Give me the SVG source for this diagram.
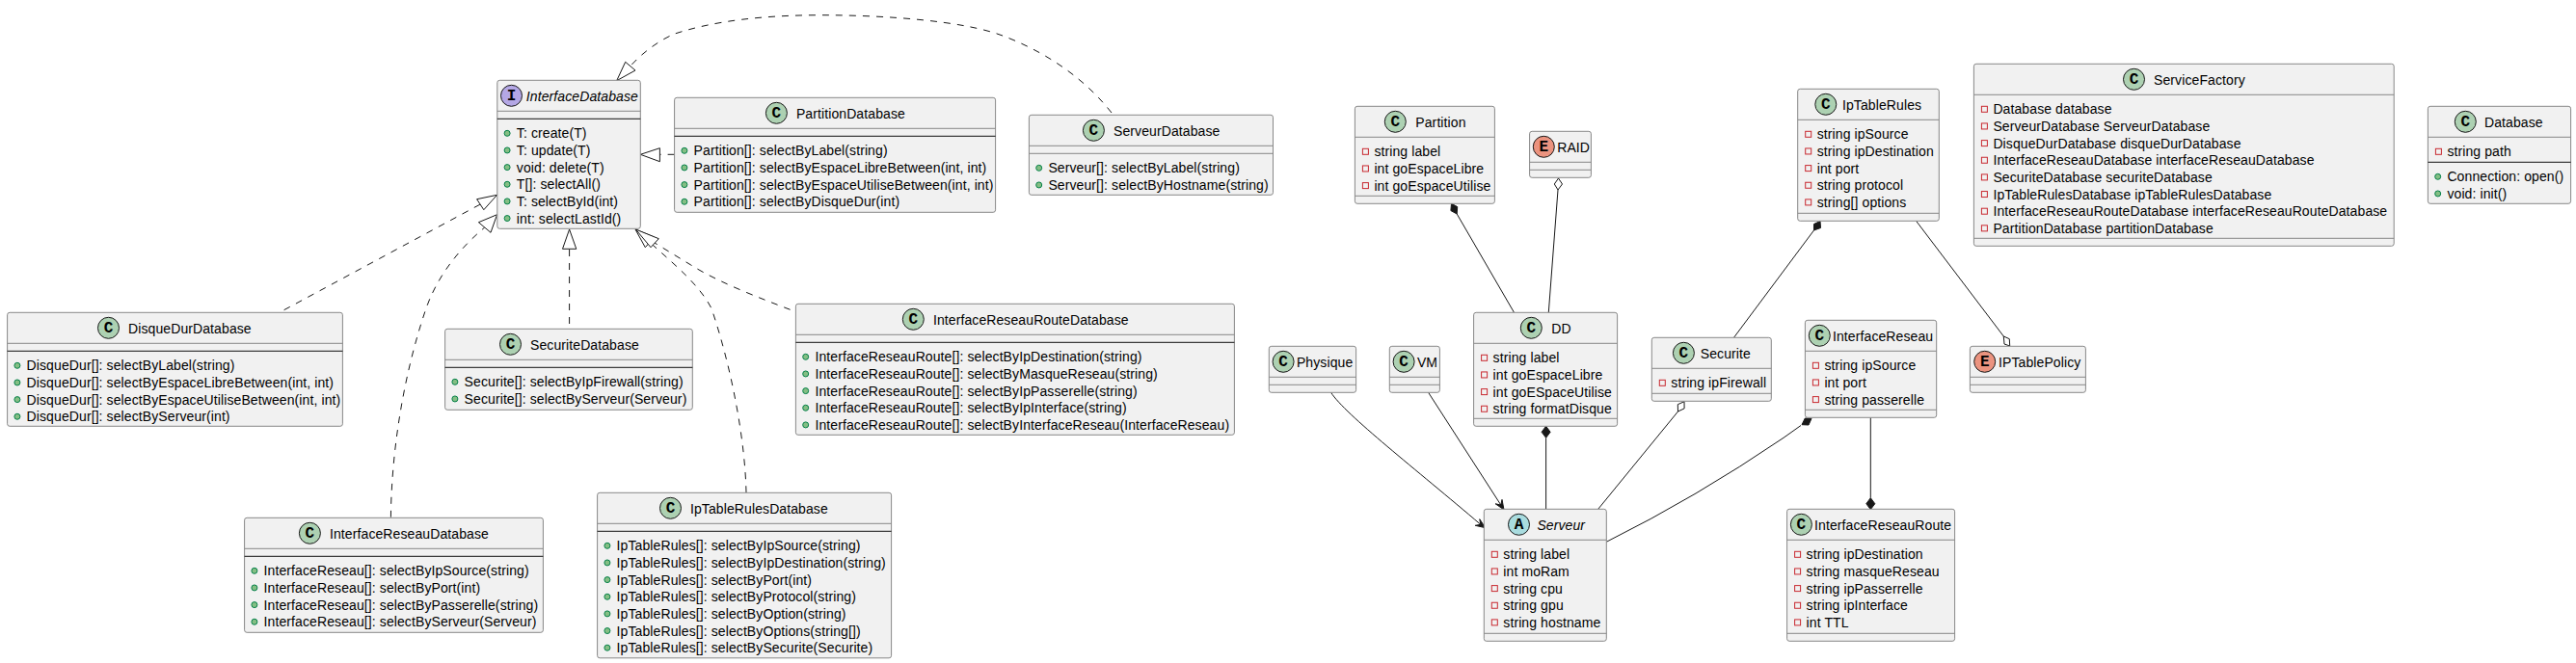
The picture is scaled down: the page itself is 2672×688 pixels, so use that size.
<svg xmlns="http://www.w3.org/2000/svg" width="2672" height="688" viewBox="0 0 2672 688">
<style>
text{font-family:"Liberation Sans",Arial,sans-serif;font-size:14px;letter-spacing:.1px;fill:#000}
.i{font-style:italic}
.b{fill:#F1F1F1;stroke:#888;stroke-width:1}
.d{stroke:#888;stroke-width:1}
.s{stroke:#111;stroke-width:1}
.ic{stroke:#181818;stroke-width:1}
.l{font-family:"Liberation Mono",monospace;font-size:16px;font-weight:bold;text-anchor:middle;letter-spacing:0}
.c{fill:#ADD1B2}.n{fill:#B4A7E5}.a{fill:#A9DCDF}.e{fill:#EB937F}
.pub{fill:#84BE84;stroke:#038048;stroke-width:1}
.pri{fill:none;stroke:#C82930;stroke-width:1}
.cn path{fill:none;stroke:#181818;stroke-width:1}
.cn .dash{stroke-dasharray:7,7}
.cn polygon{stroke:#181818;stroke-width:1}
.cn .h{fill:#fff}
.cn .o{fill:#fff}
.cn .f{fill:#181818}
</style>
<defs>
<circle id="m" class="pub" cx="10.3" cy="0" r="3"/>
<rect id="p" class="pri" x="8" y="-3" width="6" height="6"/>
</defs>
<g id="connectors" class="cn">
<path class="dash" d="M1153,117 C1120,75 1075,50 1039,36.7 C1000,22 920,15.7 851.8,15.7 C790,15.7 740,22 700,35 C683,42 665,56 653.8,68.7"/>
<polygon class="h" points="639.7,83.7 648.7,64.3 659,73"/>
<path class="dash" d="M699.6,160.3 L684.4,160.3"/>
<polygon class="h" points="664.3,160.3 684.4,153.7 684.4,167.7"/>
<path class="dash" d="M294.6,321.7 L498.2,212"/>
<polygon class="h" points="515.6,202.3 494.6,206.7 501.8,217.7"/>
<path class="dash" d="M405.4,536.7 C406,470 418,390 442,320 C455,283 480,255 502.7,236"/>
<polygon class="h" points="515.6,222.7 496.4,230.7 509,241.3"/>
<path class="dash" d="M590.6,336 L590.6,258.3"/>
<polygon class="h" points="590.6,238 583.5,258.3 597.8,258.3"/>
<path class="dash" d="M774,511 C773,460 760,385 738,320 C725,295 700,275 674,251.4"/>
<polygon class="h" points="659,238 669.3,256.7 678.7,246.1"/>
<path class="dash" d="M819.6,321.3 C790,310 745,293 716.7,275 L679,252"/>
<polygon class="h" points="659.4,238 683.3,247.7 675,256.7"/>
<path d="M1511.2,222 L1570.5,324.3"/>
<polygon class="f" points="1505.5,211.3 1511.7,214.6 1511.2,222 1504.9,218.6"/>
<path d="M1616,197 L1606.3,324.3"/>
<polygon class="o" points="1616.5,185 1620.5,191 1616,197 1612.3,191"/>
<path d="M1881.5,239 L1798.5,350.3"/>
<polygon class="f" points="1888,229.5 1888.5,236.5 1881.5,239 1881.5,232.5"/>
<path d="M1987.6,229.3 L2078.3,349"/>
<polygon class="o" points="2084.7,359 2084.3,351.7 2078.3,349 2079,357"/>
<path d="M1740.5,427 L1657.7,528.3"/>
<polygon class="o" points="1747,416.7 1747.1,423.9 1740.5,427 1740.3,419.7"/>
<path d="M1603.6,454.3 L1603.6,528.3"/>
<polygon class="f" points="1603.6,442.3 1608.1,448.3 1603.6,454.3 1599.1,448.3"/>
<path d="M1868,441.5 L1850,454.3 Q1759.85,515.7 1666.3,562.3"/>
<polygon class="f" points="1869,440.7 1872.3,434 1879,434.3 1876,441"/>
<path d="M1940.3,433.3 L1940.3,516.7"/>
<polygon class="f" points="1940.3,528.7 1944.8,522.7 1940.3,516.7 1935.8,522.7"/>
<path d="M1380.6,407.3 C1395,430 1470,488 1535.8,544.3"/>
<polygon class="f" points="1540.7,547.7 1534.8,538.7 1535.8,544.3 1530.2,545.3"/>
<path d="M1481.6,407.3 L1556.8,524"/>
<polygon class="f" points="1560,529 1558,518.4 1556.8,524 1551.2,522.8"/>
</g>

<g id="InterfaceDatabase" transform="translate(515.8,83.3)">
<rect class="b" width="148.5" height="154" rx="2.5"/><line class="d" x2="148.5" y1="32" y2="32"/><line class="s" x2="148.5" y1="40" y2="40"/>
<circle class="n ic" cx="14.7" cy="16" r="11"/><text class="l" x="14.7" y="21">I</text><text class="i" x="30" y="21.5">InterfaceDatabase</text>
<use href="#m" y="55"/><text x="20" y="60">T: create(T)</text>
<use href="#m" y="72.65"/><text x="20" y="77.65">T: update(T)</text>
<use href="#m" y="90.3"/><text x="20" y="95.3">void: delete(T)</text>
<use href="#m" y="107.95"/><text x="20" y="112.95">T[]: selectAll()</text>
<use href="#m" y="125.6"/><text x="20" y="130.6">T: selectById(int)</text>
<use href="#m" y="143.25"/><text x="20" y="148.25">int: selectLastId()</text>
</g>
<g id="PartitionDatabase" transform="translate(699.6,101.3)">
<rect class="b" width="333" height="119" rx="2.5"/><line class="d" x2="333" y1="32" y2="32"/><line class="s" x2="333" y1="40" y2="40"/>
<circle class="c ic" cx="105.8" cy="16" r="11"/><text class="l" x="105.8" y="21">C</text><text x="126.3" y="21.5">PartitionDatabase</text>
<use href="#m" y="55"/><text x="20" y="60">Partition[]: selectByLabel(string)</text>
<use href="#m" y="72.65"/><text x="20" y="77.65">Partition[]: selectByEspaceLibreBetween(int, int)</text>
<use href="#m" y="90.3"/><text x="20" y="95.3">Partition[]: selectByEspaceUtiliseBetween(int, int)</text>
<use href="#m" y="107.95"/><text x="20" y="112.95">Partition[]: selectByDisqueDur(int)</text>
</g>
<g id="ServeurDatabase" transform="translate(1067.4,119.3)">
<rect class="b" width="253.1" height="83" rx="2.5"/><line class="d" x2="253.1" y1="32" y2="32"/><line class="d" x2="253.1" y1="40" y2="40"/>
<circle class="c ic" cx="67" cy="16" r="11"/><text class="l" x="67" y="21">C</text><text x="87.6" y="21.5">ServeurDatabase</text>
<use href="#m" y="55"/><text x="20" y="60">Serveur[]: selectByLabel(string)</text>
<use href="#m" y="72.65"/><text x="20" y="77.65">Serveur[]: selectByHostname(string)</text>
</g>
<g id="DisqueDurDatabase" transform="translate(7.6,324.3)">
<rect class="b" width="347.8" height="118" rx="2.5"/><line class="d" x2="347.8" y1="32" y2="32"/><line class="s" x2="347.8" y1="40" y2="40"/>
<circle class="c ic" cx="104.9" cy="16" r="11"/><text class="l" x="104.9" y="21">C</text><text x="125.4" y="21.5">DisqueDurDatabase</text>
<use href="#m" y="55"/><text x="20" y="60">DisqueDur[]: selectByLabel(string)</text>
<use href="#m" y="72.65"/><text x="20" y="77.65">DisqueDur[]: selectByEspaceLibreBetween(int, int)</text>
<use href="#m" y="90.3"/><text x="20" y="95.3">DisqueDur[]: selectByEspaceUtiliseBetween(int, int)</text>
<use href="#m" y="107.95"/><text x="20" y="112.95">DisqueDur[]: selectByServeur(int)</text>
</g>
<g id="SecuriteDatabase" transform="translate(461.6,341.3)">
<rect class="b" width="256.7" height="84" rx="2.5"/><line class="d" x2="256.7" y1="32" y2="32"/><line class="s" x2="256.7" y1="40" y2="40"/>
<circle class="c ic" cx="67.9" cy="16" r="11"/><text class="l" x="67.9" y="21">C</text><text x="88.4" y="21.5">SecuriteDatabase</text>
<use href="#m" y="55"/><text x="20" y="60">Securite[]: selectByIpFirewall(string)</text>
<use href="#m" y="72.65"/><text x="20" y="77.65">Securite[]: selectByServeur(Serveur)</text>
</g>
<g id="InterfaceReseauDatabase" transform="translate(253.6,537.3)">
<rect class="b" width="309.8" height="119" rx="2.5"/><line class="d" x2="309.8" y1="32" y2="32"/><line class="s" x2="309.8" y1="40" y2="40"/>
<circle class="c ic" cx="67.8" cy="16" r="11"/><text class="l" x="67.8" y="21">C</text><text x="88.4" y="21.5">InterfaceReseauDatabase</text>
<use href="#m" y="55"/><text x="20" y="60">InterfaceReseau[]: selectByIpSource(string)</text>
<use href="#m" y="72.65"/><text x="20" y="77.65">InterfaceReseau[]: selectByPort(int)</text>
<use href="#m" y="90.3"/><text x="20" y="95.3">InterfaceReseau[]: selectByPasserelle(string)</text>
<use href="#m" y="107.95"/><text x="20" y="112.95">InterfaceReseau[]: selectByServeur(Serveur)</text>
</g>
<g id="IpTableRulesDatabase" transform="translate(619.6,511.3)">
<rect class="b" width="305" height="171.5" rx="2.5"/><line class="d" x2="305" y1="32" y2="32"/><line class="s" x2="305" y1="40" y2="40"/>
<circle class="c ic" cx="75.9" cy="16" r="11"/><text class="l" x="75.9" y="21">C</text><text x="96.4" y="21.5">IpTableRulesDatabase</text>
<use href="#m" y="55"/><text x="20" y="60">IpTableRules[]: selectByIpSource(string)</text>
<use href="#m" y="72.65"/><text x="20" y="77.65">IpTableRules[]: selectByIpDestination(string)</text>
<use href="#m" y="90.3"/><text x="20" y="95.3">IpTableRules[]: selectByPort(int)</text>
<use href="#m" y="107.95"/><text x="20" y="112.95">IpTableRules[]: selectByProtocol(string)</text>
<use href="#m" y="125.6"/><text x="20" y="130.6">IpTableRules[]: selectByOption(string)</text>
<use href="#m" y="143.25"/><text x="20" y="148.25">IpTableRules[]: selectByOptions(string[])</text>
<use href="#m" y="160.9"/><text x="20" y="165.9">IpTableRules[]: selectBySecurite(Securite)</text>
</g>
<g id="InterfaceReseauRouteDatabase" transform="translate(825.4,315.3)">
<rect class="b" width="455" height="136" rx="2.5"/><line class="d" x2="455" y1="32" y2="32"/><line class="s" x2="455" y1="40" y2="40"/>
<circle class="c ic" cx="121.9" cy="16" r="11"/><text class="l" x="121.9" y="21">C</text><text x="142.5" y="21.5">InterfaceReseauRouteDatabase</text>
<use href="#m" y="55"/><text x="20" y="60">InterfaceReseauRoute[]: selectByIpDestination(string)</text>
<use href="#m" y="72.65"/><text x="20" y="77.65">InterfaceReseauRoute[]: selectByMasqueReseau(string)</text>
<use href="#m" y="90.3"/><text x="20" y="95.3">InterfaceReseauRoute[]: selectByIpPasserelle(string)</text>
<use href="#m" y="107.95"/><text x="20" y="112.95">InterfaceReseauRoute[]: selectByIpInterface(string)</text>
<use href="#m" y="125.6"/><text x="20" y="130.6">InterfaceReseauRoute[]: selectByInterfaceReseau(InterfaceReseau)</text>
</g>
<g id="Partition" transform="translate(1405.4,110.3)">
<rect class="b" width="145" height="101" rx="2.5"/><line class="d" x2="145" y1="32" y2="32"/><line class="d" x2="145" y1="93" y2="93"/>
<circle class="c ic" cx="41.9" cy="16" r="11"/><text class="l" x="41.9" y="21">C</text><text x="62.9" y="21.5">Partition</text>
<use href="#p" y="47"/><text x="20" y="52">string label</text>
<use href="#p" y="64.65"/><text x="20" y="69.65">int goEspaceLibre</text>
<use href="#p" y="82.3"/><text x="20" y="87.3">int goEspaceUtilise</text>
</g>
<g id="RAID" transform="translate(1586.6,136.3)">
<rect class="b" width="63.8" height="48" rx="2.5"/><line class="d" x2="63.8" y1="32" y2="32"/><line class="d" x2="63.8" y1="40" y2="40"/>
<circle class="e ic" cx="14.7" cy="16" r="11"/><text class="l" x="14.7" y="21">E</text><text x="28.6" y="21.5">RAID</text>
</g>
<g id="IpTableRules" transform="translate(1864.7,92.3)">
<rect class="b" width="146.6" height="137" rx="2.5"/><line class="d" x2="146.6" y1="32" y2="32"/><line class="d" x2="146.6" y1="129" y2="129"/>
<circle class="c ic" cx="29.1" cy="16" r="11"/><text class="l" x="29.1" y="21">C</text><text x="46.3" y="21.5">IpTableRules</text>
<use href="#p" y="47"/><text x="20" y="52">string ipSource</text>
<use href="#p" y="64.65"/><text x="20" y="69.65">string ipDestination</text>
<use href="#p" y="82.3"/><text x="20" y="87.3">int port</text>
<use href="#p" y="99.95"/><text x="20" y="104.95">string protocol</text>
<use href="#p" y="117.6"/><text x="20" y="122.6">string[] options</text>
</g>
<g id="ServiceFactory" transform="translate(2047.4,66.3)">
<rect class="b" width="435.8" height="189" rx="2.5"/><line class="d" x2="435.8" y1="32" y2="32"/><line class="d" x2="435.8" y1="181" y2="181"/>
<circle class="c ic" cx="166.1" cy="16" r="11"/><text class="l" x="166.1" y="21">C</text><text x="186.6" y="21.5">ServiceFactory</text>
<use href="#p" y="47"/><text x="20" y="52">Database database</text>
<use href="#p" y="64.65"/><text x="20" y="69.65">ServeurDatabase ServeurDatabase</text>
<use href="#p" y="82.3"/><text x="20" y="87.3">DisqueDurDatabase disqueDurDatabase</text>
<use href="#p" y="99.95"/><text x="20" y="104.95">InterfaceReseauDatabase interfaceReseauDatabase</text>
<use href="#p" y="117.6"/><text x="20" y="122.6">SecuriteDatabase securiteDatabase</text>
<use href="#p" y="135.25"/><text x="20" y="140.25">IpTableRulesDatabase ipTableRulesDatabase</text>
<use href="#p" y="152.9"/><text x="20" y="157.9">InterfaceReseauRouteDatabase interfaceReseauRouteDatabase</text>
<use href="#p" y="170.55"/><text x="20" y="175.55">PartitionDatabase partitionDatabase</text>
</g>
<g id="Database" transform="translate(2518.4,110.3)">
<rect class="b" width="148.2" height="101" rx="2.5"/><line class="d" x2="148.2" y1="32" y2="32"/><line class="s" x2="148.2" y1="58" y2="58"/>
<circle class="c ic" cx="38.9" cy="16" r="11"/><text class="l" x="38.9" y="21">C</text><text x="58.6" y="21.5">Database</text>
<use href="#p" y="47"/><text x="20" y="52">string path</text>
<use href="#m" y="73"/><text x="20" y="78">Connection: open()</text>
<use href="#m" y="90.65"/><text x="20" y="95.65">void: init()</text>
</g>
<g id="Physique" transform="translate(1316.3,359.3)">
<rect class="b" width="90.3" height="48" rx="2.5"/><line class="d" x2="90.3" y1="32" y2="32"/><line class="d" x2="90.3" y1="40" y2="40"/>
<circle class="c ic" cx="14.8" cy="16" r="11"/><text class="l" x="14.8" y="21">C</text><text x="28.6" y="21.5">Physique</text>
</g>
<g id="VM" transform="translate(1441.3,359.3)">
<rect class="b" width="52.1" height="48" rx="2.5"/><line class="d" x2="52.1" y1="32" y2="32"/><line class="d" x2="52.1" y1="40" y2="40"/>
<circle class="c ic" cx="14.8" cy="16" r="11"/><text class="l" x="14.8" y="21">C</text><text x="28.6" y="21.5">VM</text>
</g>
<g id="DD" transform="translate(1528.6,324.3)">
<rect class="b" width="149" height="118" rx="2.5"/><line class="d" x2="149" y1="32" y2="32"/><line class="d" x2="149" y1="110" y2="110"/>
<circle class="c ic" cx="59.7" cy="16" r="11"/><text class="l" x="59.7" y="21">C</text><text x="80.6" y="21.5">DD</text>
<use href="#p" y="47"/><text x="20" y="52">string label</text>
<use href="#p" y="64.65"/><text x="20" y="69.65">int goEspaceLibre</text>
<use href="#p" y="82.3"/><text x="20" y="87.3">int goESpaceUtilise</text>
<use href="#p" y="99.95"/><text x="20" y="104.95">string formatDisque</text>
</g>
<g id="Securite" transform="translate(1713.3,350.3)">
<rect class="b" width="124" height="66" rx="2.5"/><line class="d" x2="124" y1="32" y2="32"/><line class="d" x2="124" y1="58" y2="58"/>
<circle class="c ic" cx="33.1" cy="16" r="11"/><text class="l" x="33.1" y="21">C</text><text x="50.5" y="21.5">Securite</text>
<use href="#p" y="47"/><text x="20" y="52">string ipFirewall</text>
</g>
<g id="InterfaceReseau" transform="translate(1872.4,332.3)">
<rect class="b" width="136.3" height="101" rx="2.5"/><line class="d" x2="136.3" y1="32" y2="32"/><line class="d" x2="136.3" y1="93" y2="93"/>
<circle class="c ic" cx="14.9" cy="16" r="11"/><text class="l" x="14.9" y="21">C</text><text x="28.6" y="21.5">InterfaceReseau</text>
<use href="#p" y="47"/><text x="20" y="52">string ipSource</text>
<use href="#p" y="64.65"/><text x="20" y="69.65">int port</text>
<use href="#p" y="82.3"/><text x="20" y="87.3">string passerelle</text>
</g>
<g id="IPTablePolicy" transform="translate(2043.4,359.3)">
<rect class="b" width="120" height="48" rx="2.5"/><line class="d" x2="120" y1="32" y2="32"/><line class="d" x2="120" y1="40" y2="40"/>
<circle class="e ic" cx="15.3" cy="16" r="11"/><text class="l" x="15.3" y="21">E</text><text x="29.6" y="21.5">IPTablePolicy</text>
</g>
<g id="Serveur" transform="translate(1539.3,528.3)">
<rect class="b" width="127" height="137" rx="2.5"/><line class="d" x2="127" y1="32" y2="32"/><line class="d" x2="127" y1="129" y2="129"/>
<circle class="a ic" cx="36.2" cy="16" r="11"/><text class="l" x="36.2" y="21">A</text><text class="i" x="55.1" y="21.5">Serveur</text>
<use href="#p" y="47"/><text x="20" y="52">string label</text>
<use href="#p" y="64.65"/><text x="20" y="69.65">int moRam</text>
<use href="#p" y="82.3"/><text x="20" y="87.3">string cpu</text>
<use href="#p" y="99.95"/><text x="20" y="104.95">string gpu</text>
<use href="#p" y="117.6"/><text x="20" y="122.6">string hostname</text>
</g>
<g id="InterfaceReseauRoute" transform="translate(1853.6,528.3)">
<rect class="b" width="174" height="137" rx="2.5"/><line class="d" x2="174" y1="32" y2="32"/><line class="d" x2="174" y1="129" y2="129"/>
<circle class="c ic" cx="14.8" cy="16" r="11"/><text class="l" x="14.8" y="21">C</text><text x="28.5" y="21.5">InterfaceReseauRoute</text>
<use href="#p" y="47"/><text x="20" y="52">string ipDestination</text>
<use href="#p" y="64.65"/><text x="20" y="69.65">string masqueReseau</text>
<use href="#p" y="82.3"/><text x="20" y="87.3">string ipPasserrelle</text>
<use href="#p" y="99.95"/><text x="20" y="104.95">string ipInterface</text>
<use href="#p" y="117.6"/><text x="20" y="122.6">int TTL</text>
</g>
</svg>
